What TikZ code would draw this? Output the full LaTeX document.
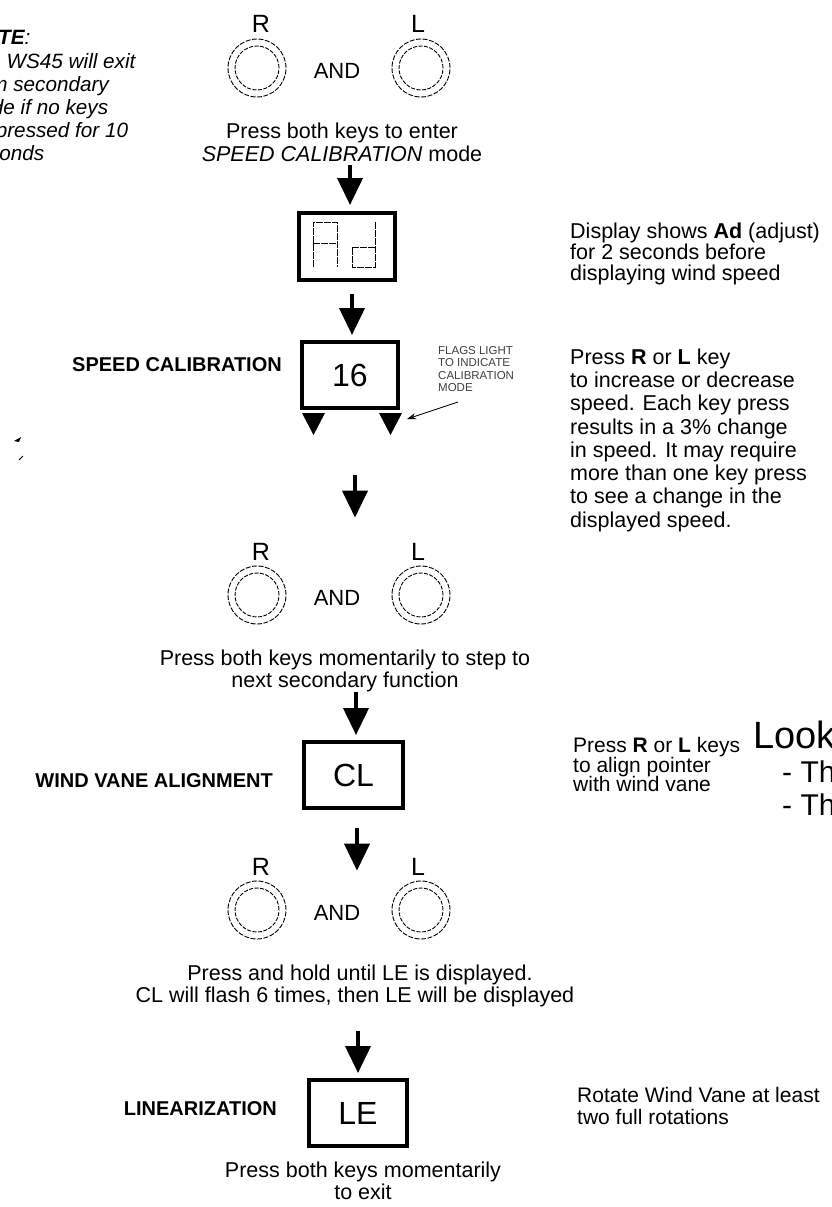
\documentclass[tikz,border=0pt]{standalone}
\usepackage{fontspec}
\setmainfont{Liberation Sans}
\usetikzlibrary{arrows.meta}
\begin{document}
\begin{tikzpicture}[x=1pt,y=-1pt,
  body/.style={inner sep=0pt, anchor=base, font=\fontsize{21.5}{23}\selectfont},
  bodyl/.style={inner sep=0pt, anchor=base west, font=\fontsize{21.5}{23}\selectfont},
  sidel/.style={inner sep=0pt, anchor=base west, font=\fontsize{21}{23}\selectfont},
  notel/.style={inner sep=0pt, anchor=base west, font=\itshape\fontsize{20.7}{23}\selectfont},
  keylbl/.style={inner sep=0pt, anchor=base, font=\fontsize{25}{28}\selectfont},
  andlbl/.style={inner sep=0pt, anchor=base, font=\fontsize{22}{24}\selectfont},
  modelbl/.style={inner sep=0pt, anchor=base east, font=\bfseries\fontsize{20}{22}\selectfont},
  flagtxt/.style={inner sep=0pt, anchor=base west, text=black!75, font=\fontsize{11.5}{12}\selectfont},
  lcd/.style={draw, line width=4pt, inner sep=0pt, font=\fontsize{32}{34}\selectfont},
  keyring/.style={circle, draw, dash pattern=on 5pt off 1.5pt, line width=0.9pt, minimum size=58pt, inner sep=0pt},
  keycore/.style={circle, draw, dash pattern=on 4pt off 1.5pt, line width=0.9pt, minimum size=44pt, inner sep=0pt},
  flow/.style={line width=4pt, -{Triangle[width=25pt,length=27pt]}},
  seg/.style={line width=1pt, dash pattern=on 7pt off 1pt},
  bigtxt/.style={inner sep=0pt, anchor=base west, font=\fontsize{38}{40}\selectfont},
  subtxt/.style={inner sep=0pt, anchor=base west, font=\fontsize{30}{32}\selectfont}
]
\useasboundingbox (0,0) rectangle (832,1207);
\fill[white] (0,0) rectangle (832,1207);
\clip (0,0) rectangle (832,1207);

% note (cut at left edge)
\node[notel] (n1) at (-33,45) {\textbf{NOTE}:};
\node[notel] (n2) at (-35,68) {The WS45 will exit};
\node[notel] (n3) at (-34,91) {from secondary};
\node[notel] (n4) at (-37,114) {mode if no keys};
\node[notel] (n5) at (-40,137) {are pressed for 10};
\node[notel] (n6) at (-33,160) {seconds};

% ---- block 1
\node[keylbl] (r1) at (261,33) {R};
\node[keylbl] (l1) at (418,33) {L};
\node[keyring] (kr1) at (257,68) {};
\node[keycore] (kr1i) at (257,68) {};
\node[keyring] (kl1) at (421,68) {};
\node[keycore] (kl1i) at (421,68) {};
\node[andlbl] (and1) at (337,78) {AND};
\node[body] (enter1) at (342,138) {Press both keys to enter};
\node[body] (enter2) at (342,161) {\textit{SPEED CALIBRATION} mode};

% Ad display
\node[lcd, minimum width=96pt, minimum height=67pt] (ad) at (347,246.5) {};
\draw[seg] (313,267) -- (313,222) -- (337,222) -- (337,267);
\draw[seg] (313,243) -- (337,243);
\draw[seg] (375,222) -- (375,267) -- (352,267) -- (352,247) -- (375,247);
\node[bodyl] (adtxt1) at (570,238) {Display shows \textbf{Ad} (adjust)};
\node[bodyl] (adtxt2) at (570,259) {for 2 seconds before};
\node[bodyl] (adtxt3) at (570,280) {displaying wind speed};

% 16 display
\node[lcd, minimum width=96pt, minimum height=66pt] (s16) at (350,375) {16};
\node[modelbl] (speedlbl) at (282,371) {SPEED CALIBRATION};
\fill (302,413) -- (325,413) -- (313.5,435) -- cycle;
\fill (379,413) -- (402,413) -- (390.5,435) -- cycle;
\node[flagtxt] (f1) at (438,354) {FLAGS LIGHT};
\node[flagtxt] (f2) at (438,366.5) {TO INDICATE};
\node[flagtxt] (f3) at (438,379) {CALIBRATION};
\node[flagtxt] (f4) at (438,391) {MODE};
\coordinate (flagtail) at (458,402);
\coordinate (flagtip) at (407,419);
\draw[line width=0.9pt, -{Stealth[length=9pt,width=6pt]}] (flagtail) -- (flagtip);

\node[bodyl] (p1) at (570,364) {Press \textbf{R} or \textbf{L} key};
\node[bodyl] (p2) at (570,387.3) {to increase or decrease};
\node[bodyl] (p3) at (570,410.6) {speed. Each key press};
\node[bodyl] (p4) at (570,434) {results in a 3\% change};
\node[bodyl] (p5) at (570,457.2) {in speed. It may require};
\node[bodyl] (p6) at (570,480.5) {more than one key press};
\node[bodyl] (p7) at (570,503.8) {to see a change in the};
\node[bodyl] (p8) at (570,527) {displayed speed.};

% scan marks
\fill (14,441) -- (21,437) -- (19,442) -- cycle;
\draw[line width=1pt] (19,460) -- (23,456);

% ---- block 2
\node[keylbl] (r2) at (261,560) {R};
\node[keylbl] (l2) at (418,560) {L};
\node[keyring] (kr2) at (257,595) {};
\node[keycore] (kr2i) at (257,595) {};
\node[keyring] (kl2) at (421,595) {};
\node[keycore] (kl2i) at (421,595) {};
\node[andlbl] (and2) at (337,605) {AND};
\node[body] (step1) at (345,665) {Press both keys momentarily to step to};
\node[body] (step2) at (345,687) {next secondary function};

% CL display
\node[lcd, minimum width=99pt, minimum height=66pt] (cl) at (353.5,775) {CL};
\node[modelbl] (wvlbl) at (273,787) {WIND VANE ALIGNMENT};
\node[sidel] (c1) at (573,752) {Press \textbf{R} or \textbf{L} keys};
\node[sidel] (c2) at (573,772) {to align pointer};
\node[sidel] (c3) at (573,791) {with wind vane};
\node[bigtxt] (look) at (753,748) {Look};
\node[subtxt] (th1) at (782,782) {- Th};
\node[subtxt] (th2) at (782,815) {- Th};

% ---- block 3
\node[keylbl] (r3) at (261,875) {R};
\node[keylbl] (l3) at (418,875) {L};
\node[keyring] (kr3) at (257,910) {};
\node[keycore] (kr3i) at (257,910) {};
\node[keyring] (kl3) at (421,910) {};
\node[keycore] (kl3i) at (421,910) {};
\node[andlbl] (and3) at (337,920) {AND};
\node[body] (hold1) at (360,980) {Press and hold until LE is displayed.};
\node[body] (hold2) at (355,1002) {CL will flash 6 times, then LE will be displayed};

% LE display
\node[lcd, minimum width=98pt, minimum height=66pt] (le) at (358,1113) {LE};
\node[modelbl] (linlbl) at (277,1115) {LINEARIZATION};
\node[sidel] (rot1) at (577,1102) {Rotate Wind Vane at least};
\node[sidel] (rot2) at (577,1124) {two full rotations};
\node[body] (exit1) at (363,1177) {Press both keys momentarily};
\node[body] (exit2) at (363,1199) {to exit};

% ---- flow arrows
\draw[flow, shorten <=4pt, shorten >=6pt] (enter2.south -| 350,0) -- (ad.north -| 350,0);
\draw[flow, shorten <=12pt, shorten >=5pt] (ad.south -| 352,0) -- (s16.north -| 352,0);
\draw[flow, shorten <=65pt, shorten >=25pt] (s16.south -| 355,0) -- (r2.north -| 355,0);
\draw[flow, shorten >=5pt] (step2.south -| 356,0) -- (cl.north -| 356,0);
\draw[flow, shorten <=18pt, shorten >=34pt] (cl.south -| 357,0) -- (and3.north -| 357,0);
\draw[flow, shorten <=24pt, shorten >=5pt] (hold2.south -| 358,0) -- (le.north -| 358,0);
\end{tikzpicture}
\end{document}
